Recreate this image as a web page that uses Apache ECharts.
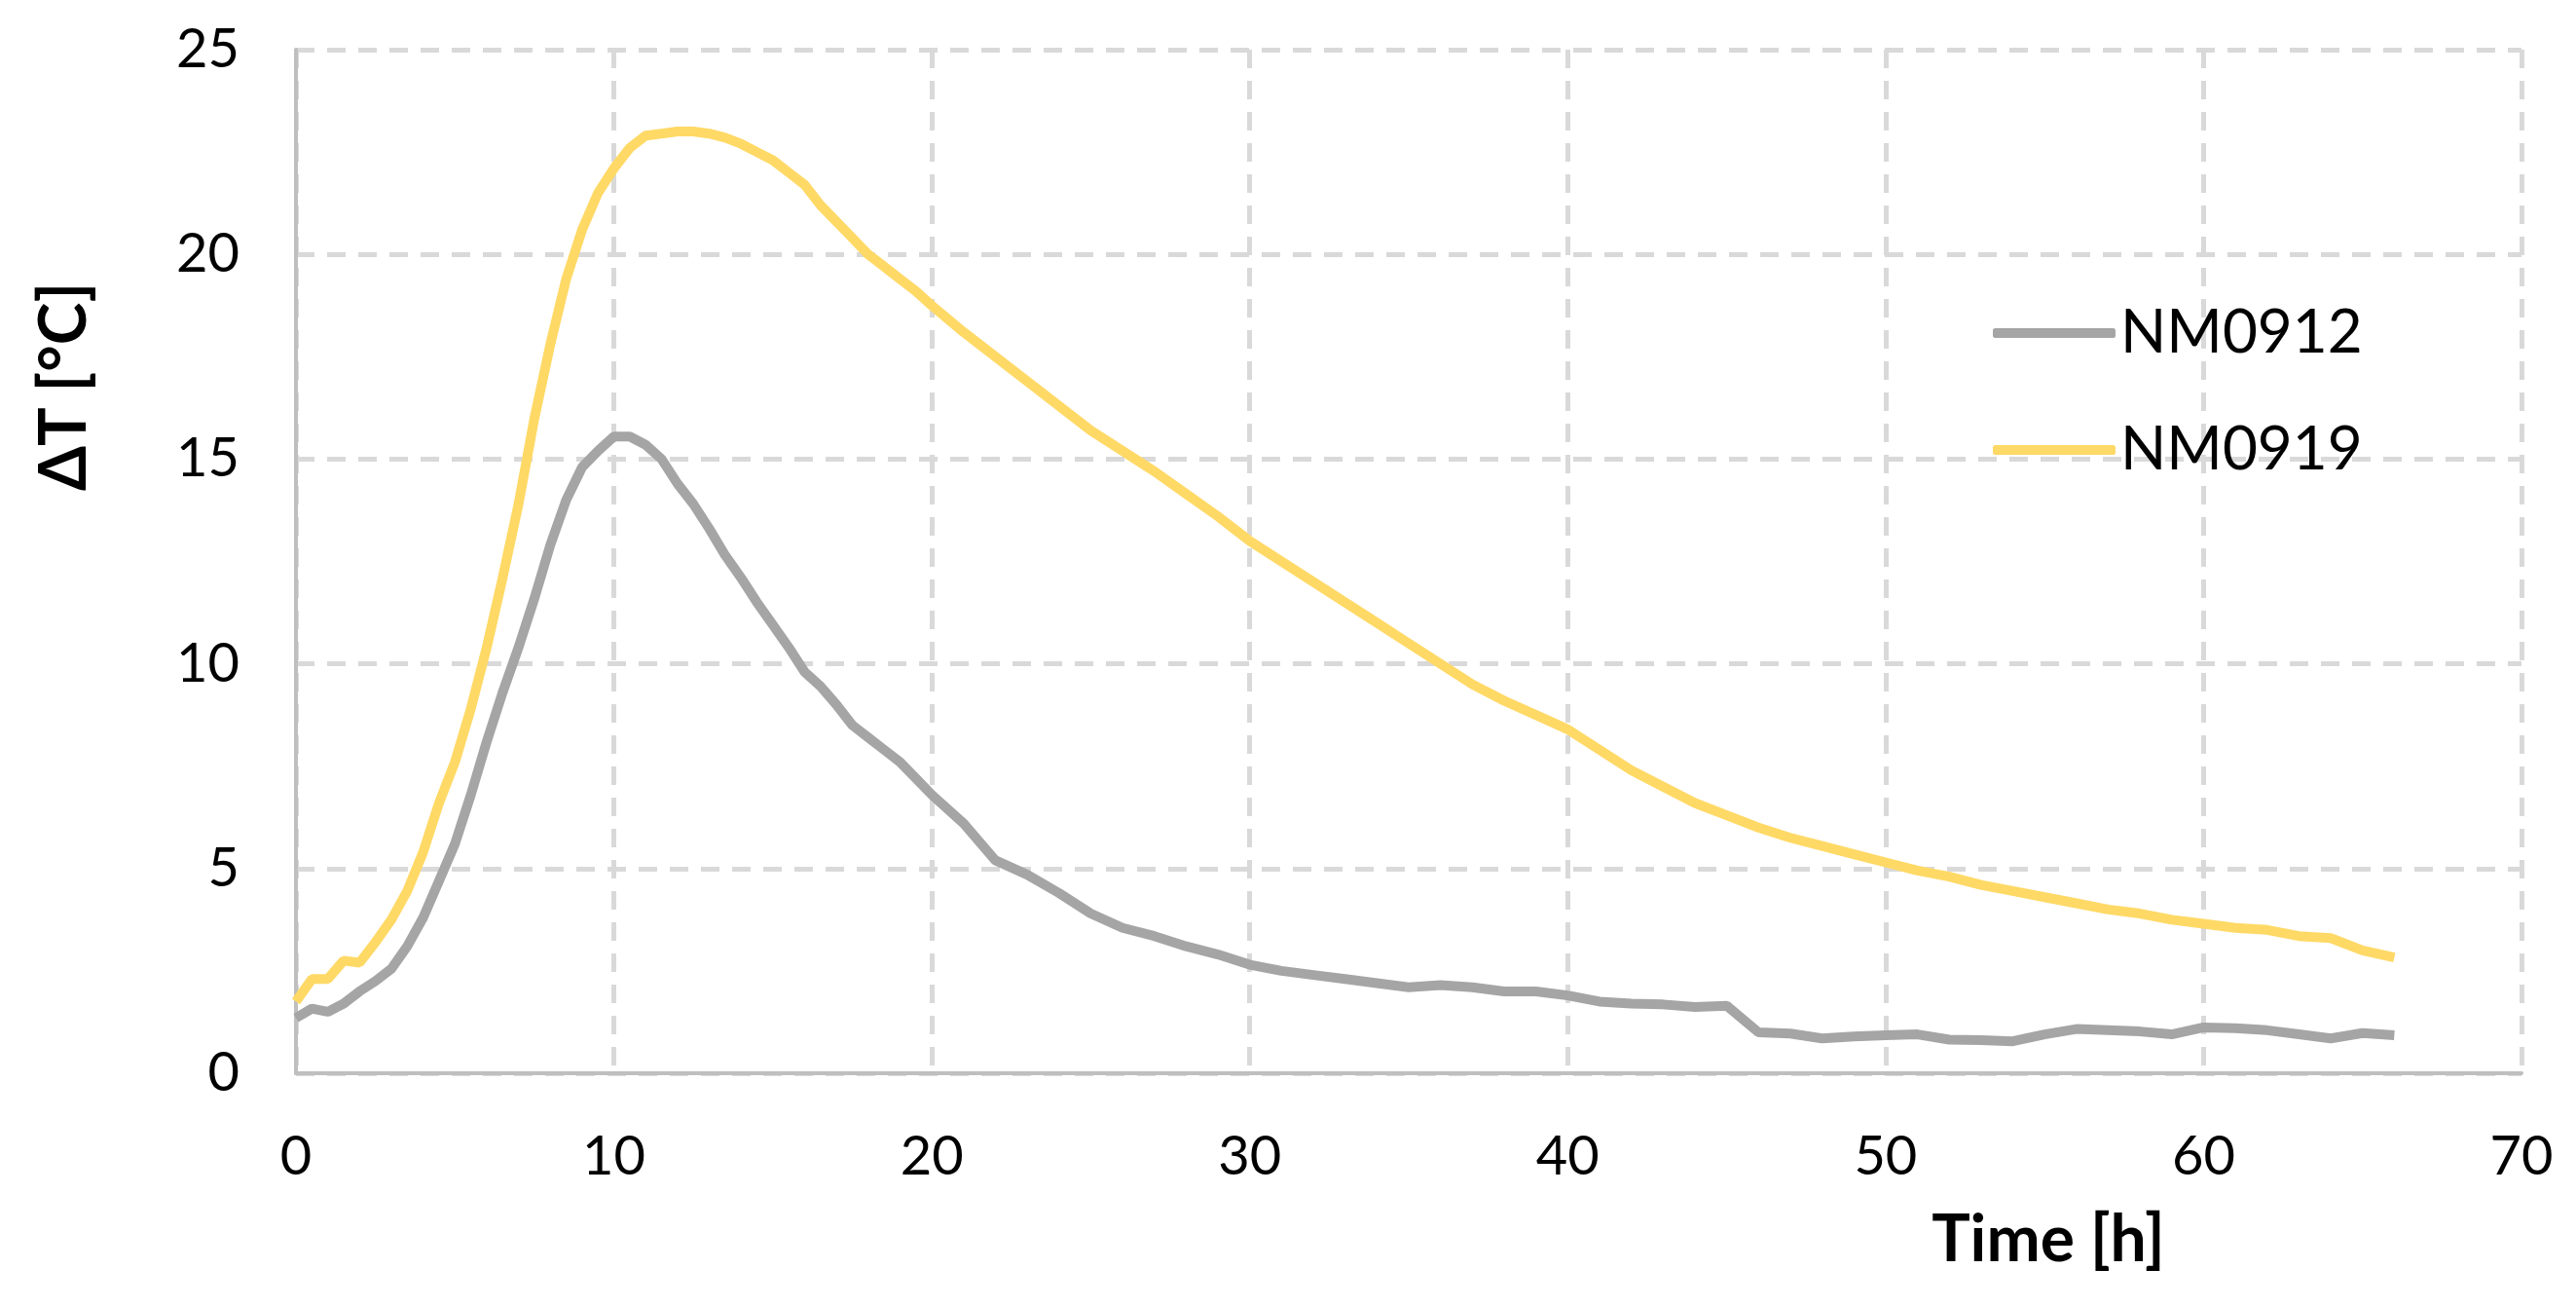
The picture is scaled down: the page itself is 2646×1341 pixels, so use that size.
<!DOCTYPE html>
<html>
<head>
<meta charset="utf-8">
<script src="https://cdn.jsdelivr.net/npm/echarts@6/dist/echarts.min.js"></script>
<style>
html,body{margin:0;padding:0;background:#fff;}
#chart{width:2646px;height:1341px;}
</style>
</head>
<body>
<div id="chart"></div>
<script>
const seriesNames = ['NM0912', 'NM0919'];
const timeH = [0,0.5,1,1.5,2,2.5,3,3.5,4,4.5,5,5.5,6,6.5,7,7.5,8,8.5,9,9.5,10,10.5,11,11.5,12,12.5,13,13.5,14,14.5,15,15.5,16,16.5,17,17.5,18,18.5,19,19.5,20,
  21,22,23,24,25,26,27,28,29,30,31,32,33,34,35,36,37,38,39,40,41,42,43,44,45,46,47,48,49,50,51,52,53,54,55,56,57,58,59,60,61,62,63,64,65,66];
const nm0912 = [1.35,1.58,1.5,1.7,2.0,2.25,2.55,3.1,3.8,4.7,5.6,6.8,8.1,9.3,10.4,11.6,12.9,14.0,14.8,15.2,15.55,15.55,15.35,15.0,14.4,13.9,13.3,12.65,12.1,11.5,10.95,10.4,9.8,9.45,9.0,8.5,8.2,7.9,7.6,7.2,6.8,
  6.1,5.2,4.85,4.4,3.9,3.55,3.35,3.1,2.9,2.65,2.5,2.4,2.3,2.2,2.1,2.15,2.1,2.0,2.0,1.9,1.75,1.7,1.68,1.62,1.65,1.0,0.97,0.85,0.9,0.93,0.95,0.82,0.81,0.78,0.95,1.08,1.05,1.02,0.95,1.12,1.1,1.05,0.95,0.85,0.98,0.93];
const nm0919 = [1.75,2.3,2.3,2.75,2.7,3.2,3.75,4.45,5.4,6.6,7.6,8.9,10.4,12.1,13.9,16.0,17.8,19.4,20.6,21.5,22.1,22.6,22.9,22.95,23.0,23.0,22.95,22.85,22.7,22.5,22.3,22.0,21.7,21.2,20.8,20.4,20.0,19.7,19.4,19.1,18.75,
  18.1,17.5,16.9,16.3,15.7,15.2,14.7,14.15,13.6,13.0,12.5,12.0,11.5,11.0,10.5,10.0,9.5,9.1,8.75,8.4,7.9,7.4,7.0,6.6,6.3,6.0,5.75,5.55,5.35,5.15,4.95,4.8,4.6,4.45,4.3,4.15,4.0,3.9,3.75,3.65,3.55,3.5,3.35,3.3,3.0,2.83];
const xTitle = 'Time [h]';
const yTitle = 'ΔT [°C]';

const FONT = 'Lato';
const chart = echarts.init(document.getElementById('chart'));
const pair = (ys) => timeH.map((t, i) => [t, ys[i]]);
const gridLine = { show: true, lineStyle: { color: '#D9D9D9', width: 5, type: [19, 13] } };
chart.setOption({
  animation: false,
  backgroundColor: '#fff',
  grid: { left: 304, right: 56, top: 51, bottom: 239, containLabel: false },
  xAxis: {
    type: 'value', min: 0, max: 70, interval: 10,
    axisLine: { show: true, onZero: false, lineStyle: { color: '#BFBFBF', width: 4 } },
    axisTick: { show: false },
    axisLabel: { fontFamily: FONT, fontSize: 56, color: '#000', margin: 58 },
    splitLine: gridLine
  },
  yAxis: {
    type: 'value', min: 0, max: 25, interval: 5,
    axisLine: { show: true, lineStyle: { color: '#BFBFBF', width: 4 } },
    axisTick: { show: false },
    axisLabel: { fontFamily: FONT, fontSize: 56, color: '#000', margin: 58 },
    splitLine: gridLine
  },
  legend: {
    left: 2042, top: 306, orient: 'vertical',
    icon: 'roundRect', itemWidth: 126, itemHeight: 10, itemGap: 58,
    textStyle: { fontFamily: FONT, fontSize: 62, color: '#000', lineHeight: 62 },
    data: seriesNames
  },
  graphic: [
    { type: 'text', x: 2104, y: 1274, style: { text: xTitle, font: 'bold 66px Lato', fill: '#000', textAlign: 'center', textVerticalAlign: 'middle' } },
    { type: 'text', x: 67, y: 397, rotation: Math.PI / 2, style: { text: yTitle, font: 'bold 66px Lato', fill: '#000', textAlign: 'center', textVerticalAlign: 'middle' } }
  ],
  series: [
    { name: seriesNames[0], type: 'line', data: pair(nm0912), symbol: 'none', lineStyle: { color: '#A5A5A5', width: 10 }, itemStyle: { color: '#A5A5A5' } },
    { name: seriesNames[1], type: 'line', data: pair(nm0919), symbol: 'none', lineStyle: { color: '#FFD966', width: 10 }, itemStyle: { color: '#FFD966' } }
  ]
});
</script>
</body>
</html>
